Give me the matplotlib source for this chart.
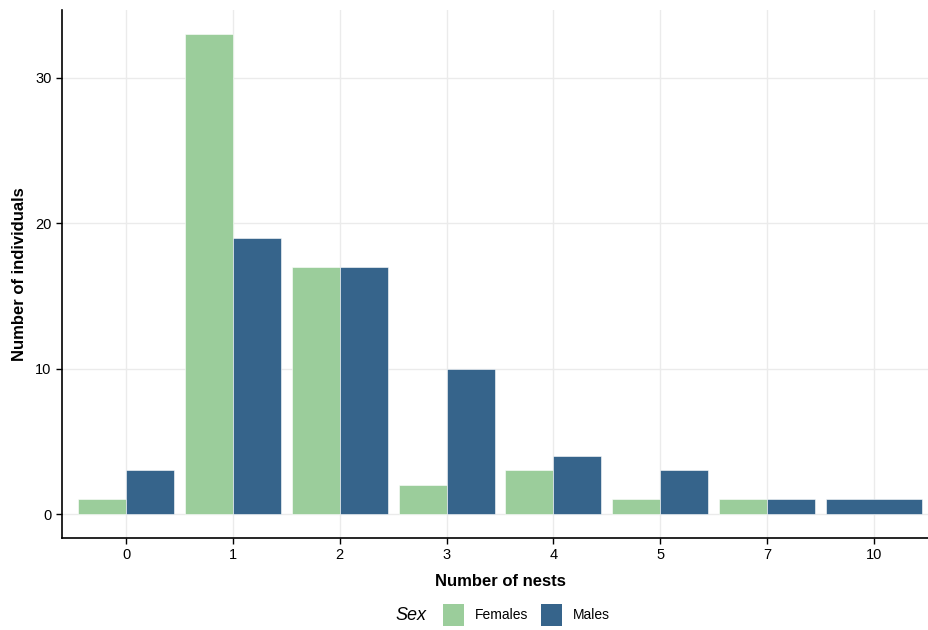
import numpy as np
import matplotlib.pyplot as plt
from matplotlib.patches import Patch

plt.rcParams['font.family'] = ['Liberation Sans', 'DejaVu Sans']

nests = ['0', '1', '2', '3', '4', '5', '7', '10']
females = [1, 33, 17, 2, 3, 1, 1, None]
males = [3, 19, 17, 10, 4, 3, 1, 1]

green = '#9BCD9B'
blue = '#36648B'

fig = plt.figure(figsize=(9.29, 6.3), dpi=100)
ax = fig.add_axes([62/929, 92/630, 876/929, 528/630])

x = np.arange(len(nests))
w = 0.45
for i in x:
    f, m = females[i], males[i]
    if f is None:
        ax.bar(i, m, width=0.9, color=blue, edgecolor='white', linewidth=0.4, zorder=3)
    else:
        ax.bar(i - w/2, f, width=w, color=green, edgecolor='white', linewidth=0.4, zorder=3)
        ax.bar(i + w/2, m, width=w, color=blue, edgecolor='white', linewidth=0.4, zorder=3)

ax.set_xlim(-0.6, len(nests) - 0.4)
ax.set_ylim(-1.65, 34.65)
ax.set_xticks(x)
ax.set_xticklabels(nests)
ax.set_yticks([0, 10, 20, 30])
ax.grid(True, color='#EBEBEB', linewidth=1, zorder=0)
for s in ['top', 'right']:
    ax.spines[s].set_visible(False)
for s in ['left', 'bottom']:
    ax.spines[s].set_linewidth(1.2)
ax.tick_params(length=4, width=1, labelsize=10.5, colors='black')

ax.set_xlabel('Number of nests', fontsize=12, fontweight='bold', labelpad=8)
ax.set_ylabel('Number of individuals', fontsize=12, fontweight='bold', labelpad=6)

fig.text(395/929, 1 - 615/630, 'Sex', fontsize=13, style='italic', va='center')
handles = [Patch(facecolor=green, label='Females'), Patch(facecolor=blue, label='Males')]
fig.legend(handles=handles, loc='center left', bbox_to_anchor=(436/929, 1 - 615/630),
           ncol=2, frameon=False, fontsize=10, handlelength=1.5, handleheight=2.0,
           columnspacing=0.9, handletextpad=0.8, borderpad=0)

fig.savefig('out.png', dpi=100)
